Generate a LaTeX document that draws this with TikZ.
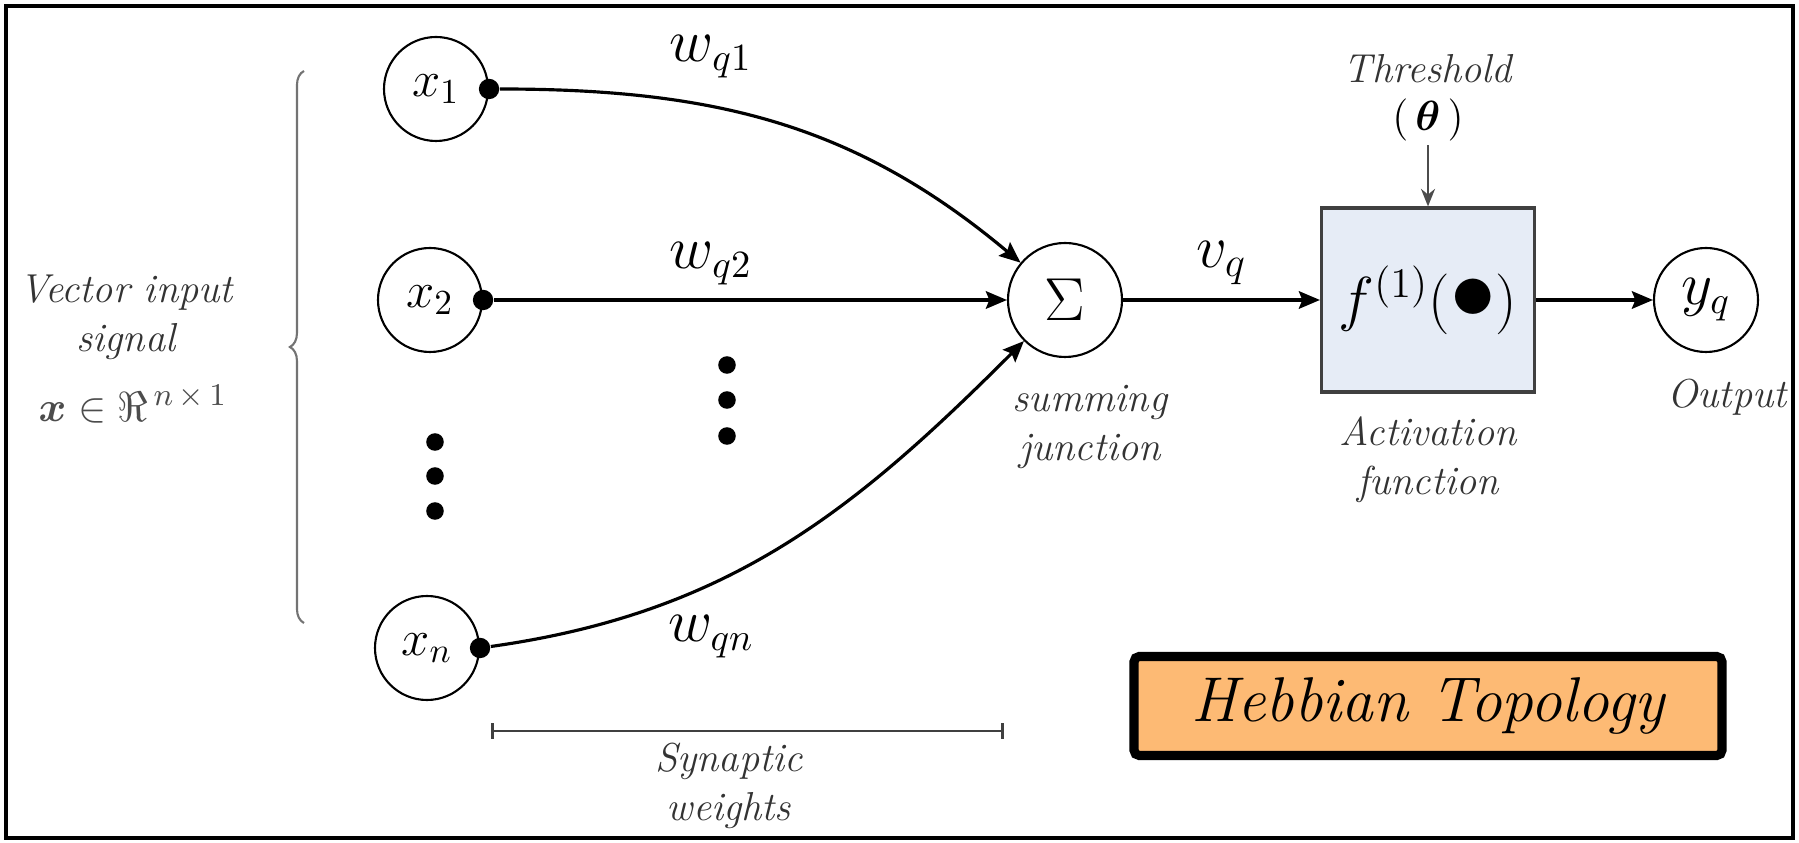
\documentclass[tikz,border=0pt]{standalone}
\usepackage{amsmath}
\usepackage{amssymb}
\usetikzlibrary{arrows.meta,decorations.pathreplacing}
\definecolor{actfill}{RGB}{230,236,246}
\definecolor{hebborange}{RGB}{253,186,116}

\begin{document}
\begin{tikzpicture}[x=0.1mm, y=-0.1mm,
  neuron/.style={draw, circle, line width=0.6pt, minimum size=10.4mm, inner sep=0pt, font=\fontsize{14}{16}\selectfont},
  dot/.style={fill, circle, minimum size=5.8pt, inner sep=0pt},
  wire/.style={line width=0.9pt, -{Stealth[length=6pt,width=5pt,inset=1pt]}},
  lab/.style={font=\fontsize{11.5}{14}\selectfont\itshape, text=black!80, align=center, inner sep=1pt},
  wlab/.style={font=\fontsize{16}{18}\selectfont, inner sep=1pt}]
  \useasboundingbox (0,0) rectangle (1799,843);
  \draw[line width=1.2pt] (6,6) rectangle (1793,838);

  \node[neuron] (x1) at (436,89) {$x_1$};
  \node[neuron] (x2) at (430,300) {$x_2$};
  \node[neuron] (xn) at (427,648) {$x_n$};
  \node[dot] (d1) at (x1.east) {};
  \node[dot] (d2) at (x2.east) {};
  \node[dot] (dn) at (xn.east) {};
  \foreach \i/\y in {1/442, 2/476, 3/511} {
    \node[dot, minimum size=5pt] (l\i) at (435,\y) {};
  }
  \foreach \i/\y in {1/365, 2/400, 3/436} {
    \node[dot, minimum size=5pt] (m\i) at (727,\y) {};
  }

  \node[neuron, minimum size=11.4mm, font=\fontsize{17}{19}\selectfont] (sum) at (1065,300) {$\Sigma$};
  \node[draw=black!75, line width=0.9pt, fill=actfill, minimum width=21.3mm, minimum height=18.4mm, inner sep=0pt,
    font=\fontsize{18}{21}\selectfont] (act) at (1428,300) {$f^{(1)}(\scalebox{1.5}{$\bullet$})$};
  \node[neuron, font=\fontsize{16}{18}\selectfont] (y) at (1706,300) {$y_q$};

  \draw[wire] (d1) to[out=0, in=140] (sum);
  \draw[wire] (d2) -- (sum);
  \draw[wire] (dn) to[out=8, in=225] (sum);
  \draw[wire] (sum) -- node[wlab, above, font=\fontsize{18}{20}\selectfont, inner sep=4pt] (vq) {$v_q$} (act);
  \draw[wire] (act) -- (y);

  \node[wlab] (w1) at (711,57) {$w_{q1}$};
  \node[wlab] (w2) at (711,264) {$w_{q2}$};
  \node[wlab] (wn) at (711,637) {$w_{qn}$};

  \node[lab] (thr) at (1428,69) {Threshold};
  \node[inner sep=1pt, font=\fontsize{13}{15}\selectfont] (theta) at (1428,120) {$(\,\boldsymbol{\theta}\,)$};
  \draw[line width=0.6pt, black!70, -{Stealth[length=5pt,width=4pt]}] (theta) -- (act);

  \node[lab] (sumlab) at (1090,427) {summing\\junction};
  \node[lab] (actlab) at (1428,460) {Activation\\function};
  \node[lab] (outlab) at (1727,397) {Output};

  \node[lab] (veclab) at (126,317) {Vector input\\signal};
  \node[inner sep=1pt, text=black!70, font=\fontsize{13}{15}\selectfont] (space) at (133,404) {$\boldsymbol{x}\in\Re^{\,n\,\times\,1}$};
  \coordinate (b1) at (304,623);
  \coordinate (b2) at (304,71);
  \draw[black!55, line width=0.6pt, decorate, decoration={brace, amplitude=4pt}] (b1) -- (b2);

  \coordinate (s1) at (491,731);
  \coordinate (s2) at (1004,731);
  \draw[line width=0.8pt, black!75, {Bar[width=4.5pt]}-{Bar[width=4.5pt]}] (s1) -- (s2);
  \node[lab] (synlab) at (729,786) {Synaptic\\weights};

  \node[draw, line width=2.6pt, fill=hebborange, rounded corners=1.5pt, minimum width=58.8mm, minimum height=9.9mm,
    font=\fontsize{18}{20}\selectfont\itshape] (topo) at (1428,706) {Hebbian Topology};
\end{tikzpicture}
\end{document}
